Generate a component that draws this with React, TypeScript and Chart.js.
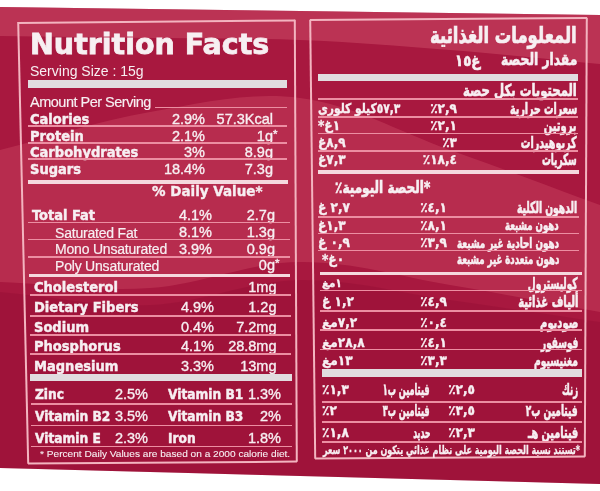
import React, { useEffect, useLayoutEffect, useRef } from "react";
import { Chart, registerables } from "chart.js";

Chart.register(...registerables);

// ---------- English panel data ----------
const enTitle = "Nutrition Facts";
const enServing = "Serving Size :  15g";
const enAmountHeader = "Amount Per Serving";
const enDailyHeader = "% Daily Value*";
const enFootnote = "* Percent Daily Values are based on a 2000 calorie diet.";

const enTopLabels = ["Calories", "Protein", "Carbohydrates", "Sugars"];
const enTopPercents = ["2.9%", "2.1%", "3%", "18.4%"];
const enTopAmounts = ["57.3Kcal", "1g*", "8.9g", "7.3g"];

const enFatLabels = ["Total Fat", "Saturated Fat", "Mono Unsaturated", "Poly Unsaturated"];
const enFatPercents = ["4.1%", "8.1%", "3.9%", ""];
const enFatAmounts = ["2.7g", "1.3g", "0.9g", "0g*"];

const enMinLabels = ["Cholesterol", "Dietary Fibers", "Sodium", "Phosphorus", "Magnesium"];
const enMinPercents = ["", "4.9%", "0.4%", "4.1%", "3.3%"];
const enMinAmounts = ["1mg", "1.2g", "7.2mg", "28.8mg", "13mg"];

const enVitLabelsA = ["Zinc", "Vitamin B2", "Vitamin E"];
const enVitValuesA = ["2.5%", "3.5%", "2.3%"];
const enVitLabelsB = ["Vitamin B1", "Vitamin B3", "Iron"];
const enVitValuesB = ["1.3%", "2%", "1.8%"];

// ---------- Arabic panel data ----------
const arTitle = "المعلومات الغذائية";
const arServingLabel = "مقدار الحصة";
const arServingValue = "١٥غ";
const arAmountHeader = "المحتويات بكل حصة";
const arDailyHeader = "*الحصة اليومية٪";
const arFootnote = "*تستند نسبة الحصة اليومية على نظام غذائي يتكون من ٢٠٠٠ سعر";

const arTopLabels = ["سعرات حرارية", "بروتين", "كربوهيدرات", "سكريات"];
const arTopPercents = ["٢,٩٪", "٢,١٪", "٣٪", "١٨,٤٪"];
const arTopAmounts = ["٥٧,٣كيلو كلوري", "١غ*", "٨,٩غ", "٧,٣غ"];

const arFatLabels = ["الدهون الكلية", "دهون مشبعة", "دهون احادية غير مشبعة", "دهون متعددة غير مشبعة"];
const arFatPercents = ["٤,١٪", "٨,١٪", "٣,٩٪", ""];
const arFatAmounts = ["٢,٧ غ", "١,٣غ", "٠,٩ غ", "٠غ*"];

const arMinLabels = ["كوليسترول", "ألياف غذائية", "صوديوم", "فوسفور", "مغنيسيوم"];
const arMinPercents = ["", "٤,٩٪", "٠,٤٪", "٤,١٪", "٣,٣٪"];
const arMinAmounts = ["١مغ", "١,٢ غ", "٧,٢مغ", "٢٨,٨مغ", "١٣مغ"];

const arVitLabelsA = ["زنك", "فيتامين ب٢", "فيتامين هـ"];
const arVitValuesA = ["٢,٥٪", "٣,٥٪", "٢,٣٪"];
const arVitLabelsB = ["فيتامين ب١", "فيتامين ب٣", "حديد"];
const arVitValuesB = ["١,٣٪", "٢٪", "١,٨٪"];

// ---------- background bands ----------
const bandX = [0, 150, 300, 450, 600];
const paperTopY = [7, 9, 11, 13, 15];
const paperBottomY = [468, 472, 476, 480, 484];
const glowTopLowerY = [36, 38, 40, 50, 64];
const glowMidUpperY = [150, 112, 98, 150, 205];
const glowMidLowerY = [282, 288, 262, 285, 312];
const shadeUpperY = [292, 305, 280, 300, 322];

const W = 600;
const H = 491;
const TXT = "#f7eff2";
const PINK = "#ec8ea2";
const BORDER = "#f3b4c0";
const BAR = "#e1dcdf";
const WLINE = "#f5d8de";

const EN_HEAVY = '"DejaVu Sans Condensed", "DejaVu Sans", sans-serif';
const EN_TITLE = '"DejaVu Sans", sans-serif';
const EN_REG = '"Liberation Sans", Arial, sans-serif';
const AR = '"DejaVu Sans Condensed", "DejaVu Sans", sans-serif';

type TP = {
  x: number;
  y: number;
  right?: boolean;
  size: number;
  family: string;
  bold?: boolean;
  stretch?: string;
  ls?: number;
  stroke?: number;
  rtl?: boolean;
  ltrOverride?: boolean;
  w?: number;
  text: string;
};

function Txt(p: TP) {
  const ref = useRef<HTMLDivElement>(null);
  useLayoutEffect(() => {
    const el = ref.current;
    if (!el || !p.w) return;
    el.style.transform = "none";
    const nw = el.offsetWidth;
    if (nw > 0) el.style.transform = `scaleX(${p.w / nw})`;
  }, [p.w, p.text, p.size]);
  const h = Math.round(p.size * 1.7);
  let main = p.text;
  let star = false;
  if (!p.rtl && main.endsWith("*") && main.length > 1 && main !== enDailyHeader) {
    main = main.slice(0, -1);
    star = true;
  }
  const style: React.CSSProperties = {
    position: "absolute",
    top: p.y - h / 2,
    height: h,
    lineHeight: h + "px",
    whiteSpace: "nowrap",
    fontFamily: p.family,
    fontSize: p.size,
    fontWeight: p.bold ? 700 : 400,
    fontStretch: p.stretch as any,
    letterSpacing: p.ls,
    color: TXT,
    WebkitTextStroke: p.stroke ? `${p.stroke}px ${TXT}` : undefined,
    transformOrigin: p.right ? "100% 50%" : "0 50%",
  };
  if (p.right) style.right = W - p.x;
  else style.left = p.x;
  if (p.ltrOverride) {
    style.direction = "ltr";
    style.unicodeBidi = "bidi-override";
  }
  return (
    <div ref={ref} dir={p.rtl && !p.ltrOverride ? "rtl" : undefined} style={style}>
      {main}
      {star ? (
        <span style={{ position: "absolute", left: "100%", top: -3, fontSize: p.size * 0.8 }}>*</span>
      ) : null}
    </div>
  );
}

function HL(p: { x1: number; x2: number; y: number; t?: number; c?: string }) {
  const t = p.t ?? 1.5;
  return (
    <div
      style={{
        position: "absolute",
        left: p.x1,
        top: p.y - t / 2,
        width: p.x2 - p.x1,
        height: t,
        background: p.c ?? PINK,
      }}
    />
  );
}

function Seg(p: { x1: number; y1: number; x2: number; y2: number; t?: number; c?: string }) {
  const t = p.t ?? 1.6;
  const dx = p.x2 - p.x1;
  const dy = p.y2 - p.y1;
  const len = Math.hypot(dx, dy);
  const ang = (Math.atan2(dy, dx) * 180) / Math.PI;
  return (
    <div
      style={{
        position: "absolute",
        left: p.x1,
        top: p.y1 - t / 2,
        width: len,
        height: t,
        background: p.c ?? BORDER,
        transformOrigin: "0 50%",
        transform: `rotate(${ang}deg)`,
      }}
    />
  );
}

function Quad(p: { pts: number[][] }) {
  const q = p.pts;
  return (
    <>
      {q.map((a, i) => {
        const b = q[(i + 1) % q.length];
        return <Seg key={i} x1={a[0]} y1={a[1]} x2={b[0]} y2={b[1]} />;
      })}
    </>
  );
}

export default function App() {
  const ref = useRef<HTMLCanvasElement>(null);

  useEffect(() => {
    const cv = ref.current;
    if (!cv) return;
    const pts = (ys: number[]) => bandX.map((x, i) => ({ x, y: ys[i] }));
    const edge = {
      borderColor: "rgba(0,0,0,0)",
      borderWidth: 0,
      pointRadius: 0,
      fill: false as any,
    };
    const chart = new Chart(cv, {
      type: "line",
      data: {
        datasets: [
          { ...edge, data: pts(paperTopY), order: 7 },
          { ...edge, data: pts(paperBottomY), fill: "-1", backgroundColor: "#a8183f", order: 6 },
          { ...edge, data: pts(paperTopY), order: 5 },
          { ...edge, data: pts(glowTopLowerY), fill: "-1", backgroundColor: "rgba(214,90,114,0.42)", order: 4 },
          { ...edge, data: pts(glowMidUpperY), order: 3 },
          { ...edge, data: pts(glowMidLowerY), fill: "-1", backgroundColor: "rgba(210,80,106,0.36)", order: 2 },
          { ...edge, data: pts(shadeUpperY), order: 1 },
          { ...edge, data: pts(paperBottomY), fill: "-1", backgroundColor: "rgba(120,0,40,0.18)", order: 0 },
        ] as any,
      },
      options: {
        animation: false,
        responsive: false,
        events: [],
        layout: { padding: 0 },
        elements: { line: { tension: 0.35 }, point: { radius: 0 } },
        scales: {
          x: { type: "linear", min: 0, max: W, display: false },
          y: { type: "linear", min: 0, max: H, reverse: true, display: false },
        },
        plugins: { legend: { display: false }, tooltip: { enabled: false } },
      },
    });
    return () => chart.destroy();
  }, []);

  // ---- layout (English) ----
  const enTopY = [119, 136.5, 152.5, 169.5];
  const enTopLines = [126, 143, 159];
  const enFatY = [215, 232.5, 249, 265.5];
  const enFatX = [32, 55, 55, 55];
  const enFatLines = [222.5, 239.5, 257];
  const enMinY = [287.5, 307.5, 327, 346, 366];
  const enMinLines = [295, 316, 335, 354];
  const enVitY = [394, 416, 438];
  const enVitLines = [404, 425.5, 446.5];

  // ---- layout (Arabic) ----
  const arTopY = [108.5, 125, 142, 159.5];
  const arTopW = [67, 33, 56, 35];
  const arTopLines = [117, 133.5, 151];
  const arFatY = [207.5, 225, 242.5, 259];
  const arFatRight = [577, 559, 559, 559];
  const arFatSize = [16, 14, 14, 14];
  const arFatW = [60, 54, 102, 102];
  const arFatLines = [217, 233.5, 250.5];
  const arMinY = [283, 301.5, 322, 342, 360];
  const arMinW = [50, 60, 38, 37, 44];
  const arMinLines = [290.5, 311, 330, 349.5];
  const arVitY = [389, 410, 432];
  const arVitWA = [16, 52, 50];
  const arVitWB = [47, 47, 17];
  const arVitLines = [402, 422, 442];

  const num = { family: EN_REG, size: 14.5, stroke: 0.35 };
  const heavy = { family: EN_HEAVY, size: 14.5, bold: true, stretch: "condensed", stroke: 0.45 };
  const heavyV = { family: EN_HEAVY, size: 13.6, bold: true, stretch: "condensed", stroke: 0.45 };
  const arB = { family: AR, bold: true, rtl: true, stretch: "condensed", stroke: 0.6 };
  const arN = { family: AR, bold: true, rtl: true, stretch: "condensed", size: 13.5, stroke: 0.35 };

  return (
    <div
      style={{
        position: "fixed",
        left: 0,
        top: 0,
        width: W,
        height: H,
        overflow: "hidden",
        background: "#ffffff",
      }}
    >
      <canvas ref={ref} width={W} height={H} style={{ position: "absolute", left: 0, top: 0, display: "block" }} />
      <div style={{ position: "absolute", left: 0, top: 0, width: W, height: H }}>
        {/* ---------------- English panel ---------------- */}
        <Quad pts={[[18, 22.5], [295, 20], [297, 462], [28, 464]]} />
        <Txt x={30} y={45} size={28.5} family={EN_TITLE} bold stroke={0.8} text={enTitle} />
        <Txt x={30} y={71} size={14} family={EN_REG} text={enServing} />
        <HL x1={28} x2={287} y={84} t={7.5} c={BAR} />
        <Txt x={30} y={102.5} size={14.5} family={EN_REG} ls={-0.5} stroke={0.15} text={enAmountHeader} />
        <HL x1={155} x2={287} y={107.5} />
        {enTopLabels.map((l, i) => (
          <React.Fragment key={"et" + i}>
            <Txt x={30} y={enTopY[i]} {...heavy} text={l} />
            <Txt x={205} y={enTopY[i]} right {...num} text={enTopPercents[i]} />
            <Txt x={273} y={enTopY[i]} right {...num} text={enTopAmounts[i]} />
          </React.Fragment>
        ))}
        {enTopLines.map((y, i) => (
          <HL key={"etl" + i} x1={28} x2={287} y={y} />
        ))}
        <HL x1={28} x2={288} y={182} t={4} c={WLINE} />
        <Txt x={152} y={191} size={13.5} family={EN_TITLE} bold stroke={0.35} text={enDailyHeader} />
        {enFatLabels.map((l, i) => (
          <React.Fragment key={"ef" + i}>
            {i === 0 ? (
              <Txt x={enFatX[i]} y={enFatY[i]} {...heavy} text={l} />
            ) : (
              <Txt x={enFatX[i]} y={enFatY[i]} size={14} family={EN_REG} ls={-0.2} stroke={0.2} text={l} />
            )}
            {enFatPercents[i] ? <Txt x={212} y={enFatY[i]} right {...num} text={enFatPercents[i]} /> : null}
            <Txt x={275} y={enFatY[i]} right {...num} text={enFatAmounts[i]} />
          </React.Fragment>
        ))}
        {enFatLines.map((y, i) => (
          <HL key={"efl" + i} x1={28} x2={290} y={y} />
        ))}
        <HL x1={29} x2={290} y={275.5} t={3.5} c={WLINE} />
        {enMinLabels.map((l, i) => (
          <React.Fragment key={"em" + i}>
            <Txt x={34} y={enMinY[i]} {...heavy} text={l} />
            {enMinPercents[i] ? <Txt x={214} y={enMinY[i]} right {...num} text={enMinPercents[i]} /> : null}
            <Txt x={276.5} y={enMinY[i]} right {...num} text={enMinAmounts[i]} />
          </React.Fragment>
        ))}
        {enMinLines.map((y, i) => (
          <HL key={"eml" + i} x1={30} x2={291} y={y} />
        ))}
        <HL x1={30} x2={292} y={377.5} t={7.5} c={BAR} />
        {enVitLabelsA.map((l, i) => (
          <React.Fragment key={"ev" + i}>
            <Txt x={35} y={enVitY[i]} {...heavyV} text={l} />
            <Txt x={148} y={enVitY[i]} right {...num} text={enVitValuesA[i]} />
            <Txt x={168} y={enVitY[i]} {...heavyV} text={enVitLabelsB[i]} />
            <Txt x={281} y={enVitY[i]} right {...num} text={enVitValuesB[i]} />
          </React.Fragment>
        ))}
        {enVitLines.map((y, i) => (
          <HL key={"evl" + i} x1={31} x2={292} y={y} />
        ))}
        <Txt x={40} y={453.5} size={9.8} family={EN_REG} w={250} stroke={0.1} text={enFootnote} />

        {/* ---------------- Arabic panel ---------------- */}
        <Quad pts={[[310, 20], [587, 18], [585, 457], [315, 459]]} />
        <Txt x={577} y={35} right size={23} {...arB} stroke={0.7} w={147} text={arTitle} />
        <Txt x={577} y={60} right size={16.5} {...arB} w={76} text={arServingLabel} />
        <Txt x={455} y={60} size={16} {...arB} ltrOverride w={25} text={arServingValue} />
        <HL x1={318} x2={578} y={77.5} t={7} c={BAR} />
        <Txt x={577} y={91} right size={16.5} {...arB} w={114} text={arAmountHeader} />
        <HL x1={318} x2={578} y={99} />
        {arTopLabels.map((l, i) => (
          <React.Fragment key={"at" + i}>
            <Txt x={577} y={arTopY[i]} right size={16} {...arB} w={arTopW[i]} text={l} />
            <Txt x={457} y={arTopY[i]} right {...arN} text={arTopPercents[i]} />
            <Txt x={318} y={arTopY[i]} {...arN} w={i === 0 ? 82 : undefined} text={arTopAmounts[i]} />
          </React.Fragment>
        ))}
        {arTopLines.map((y, i) => (
          <HL key={"atl" + i} x1={318} x2={578} y={y} />
        ))}
        <HL x1={318} x2={579} y={172} t={4} c={WLINE} />
        <Txt x={430} y={188} right size={16.5} {...arB} w={95} text={arDailyHeader} />
        {arFatLabels.map((l, i) => (
          <React.Fragment key={"af" + i}>
            <Txt x={arFatRight[i]} y={arFatY[i]} right size={arFatSize[i]} {...arB} w={arFatW[i]} text={l} />
            {arFatPercents[i] ? <Txt x={447} y={arFatY[i]} right {...arN} text={arFatPercents[i]} /> : null}
            <Txt x={i === 3 ? 322 : 318} y={arFatY[i]} {...arN} text={arFatAmounts[i]} />
          </React.Fragment>
        ))}
        {arFatLines.map((y, i) => (
          <HL key={"afl" + i} x1={318} x2={579} y={y} />
        ))}
        <HL x1={320} x2={582} y={273.5} t={3.5} c={WLINE} />
        {arMinLabels.map((l, i) => (
          <React.Fragment key={"am" + i}>
            <Txt x={578} y={arMinY[i]} right size={16} {...arB} w={arMinW[i]} text={l} />
            {arMinPercents[i] ? <Txt x={447} y={arMinY[i]} right {...arN} text={arMinPercents[i]} /> : null}
            <Txt x={322} y={arMinY[i]} {...arN} size={i === 0 ? 11.5 : 13.5} text={arMinAmounts[i]} />
          </React.Fragment>
        ))}
        {arMinLines.map((y, i) => (
          <HL key={"aml" + i} x1={320} x2={582} y={y} />
        ))}
        <HL x1={322} x2={582} y={372.5} t={8} c={BAR} />
        {arVitLabelsA.map((l, i) => (
          <React.Fragment key={"av" + i}>
            <Txt x={578} y={arVitY[i]} right size={16} {...arB} w={arVitWA[i]} text={l} />
            <Txt x={475} y={arVitY[i]} right {...arN} text={arVitValuesA[i]} />
            <Txt x={430} y={arVitY[i]} right size={16} {...arB} w={arVitWB[i]} text={arVitLabelsB[i]} />
            <Txt x={322} y={arVitY[i]} {...arN} text={arVitValuesB[i]} />
          </React.Fragment>
        ))}
        {arVitLines.map((y, i) => (
          <HL key={"avl" + i} x1={322} x2={582} y={y} />
        ))}
        <Txt x={580} y={449.5} right size={12} {...arB} stroke={0.3} w={257} text={arFootnote} />
      </div>
    </div>
  );
}
